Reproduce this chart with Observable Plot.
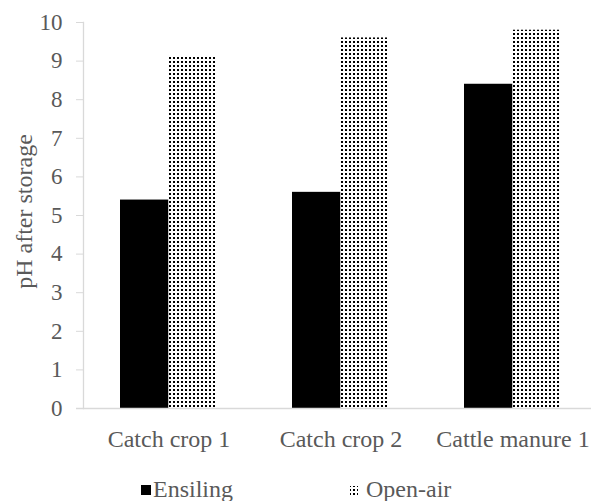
<!DOCTYPE html>
<html>
<head>
<meta charset="utf-8">
<script src="https://cdn.jsdelivr.net/npm/d3@7"></script>
<script src="https://cdn.jsdelivr.net/npm/@observablehq/plot@0.6"></script>
<style>
  html, body { margin: 0; padding: 0; background: #fff; }
  #chart { width: 591px; height: 501px; overflow: hidden; }
  svg { display: block; }
</style>
</head>
<body>
<div id="chart"></div>
<script>
const categories = ["Catch crop 1", "Catch crop 2", "Cattle manure 1"];
const seriesNames = ["Ensiling", "Open-air"];
const ensiling = [5.4, 5.6, 8.4];
const openAir = [9.1, 9.6, 9.8];
const yTicks = [0, 1, 2, 3, 4, 5, 6, 7, 8, 9, 10];
const yTitle = "pH after storage";

const FONT = "'Liberation Serif', 'Times New Roman', serif";
const TEXT = "#595959";
const AXIS = "#d9d9d9";

const ensData = categories.map((c, i) => ({category: c, series: seriesNames[0], value: ensiling[i]}));
const openData = categories.map((c, i) => ({category: c, series: seriesNames[1], value: openAir[i]}));

const half = 48.5;

const plot = Plot.plot({
  width: 591,
  height: 460,
  marginLeft: 83,
  marginRight: 0,
  marginTop: 22,
  marginBottom: 52,
  style: {fontFamily: FONT, fontSize: "23px", color: TEXT, background: "white"},
  x: {domain: categories, range: [83, 599], paddingInner: 0.436, paddingOuter: 0.218, label: null},
  y: {domain: [0, 10], label: null},
  marks: [
    Plot.barY(ensData, {x: "category", y: "value", fill: "black", insetRight: half}),
    Plot.barY(openData, {x: "category", y: "value", fill: "url(#dotpat)", insetLeft: half}),
    Plot.ruleY([0], {stroke: AXIS, strokeWidth: 1.3, insetLeft: -7}),
    Plot.frame({anchor: "left", stroke: AXIS, strokeWidth: 1.3}),
    Plot.axisY({ticks: yTicks, tickSize: 7, tickPadding: 14, stroke: AXIS, fill: TEXT, label: null, fontSize: 23, tickFormat: d => String(d)}),
    Plot.axisX({tickSize: 0, tickPadding: 21, fill: TEXT, label: null, fontSize: 24}),
    Plot.text([yTitle], {frameAnchor: "left", textAnchor: "middle", dx: -59, dy: -4, rotate: -90, fill: TEXT, fontSize: 24, text: d => d})
  ]
});

function addPattern(svgEl, id) {
  const defs = d3.select(svgEl).insert("defs", ":first-child");
  const p = defs.append("pattern").attr("id", id).attr("patternUnits", "userSpaceOnUse")
    .attr("width", 4).attr("height", 4);
  p.append("rect").attr("width", 4).attr("height", 4).attr("fill", "white");
  p.append("rect").attr("x", 1).attr("y", 1).attr("width", 2).attr("height", 2).attr("fill", "black");
}
addPattern(plot, "dotpat");
document.getElementById("chart").appendChild(plot);

// legend below the plot
const legend = d3.create("svg").attr("width", 591).attr("height", 41)
  .style("font-family", FONT).style("font-size", "24px");
addPattern(legend.node(), "dotpat2");
legend.append("rect").attr("x", 141).attr("y", 25).attr("width", 10).attr("height", 10).attr("fill", "black");
legend.append("text").attr("x", 153).attr("y", 37).attr("fill", TEXT).text(seriesNames[0]);
legend.append("rect").attr("x", 350).attr("y", 26).attr("width", 8).attr("height", 9).attr("fill", "url(#dotpat2)");
legend.append("text").attr("x", 366).attr("y", 37).attr("fill", TEXT).text(seriesNames[1]);
document.getElementById("chart").appendChild(legend.node());
</script>
</body>
</html>
